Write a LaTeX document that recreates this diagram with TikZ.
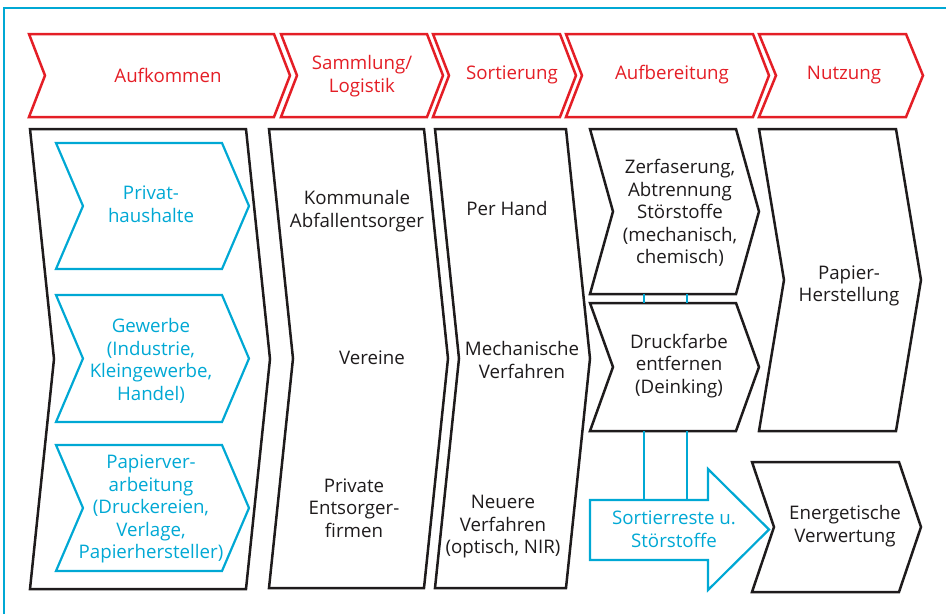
\documentclass[tikz,border=0pt]{standalone}
\usepackage{fontspec}
\setmainfont{Open Sans}
\definecolor{stagered}{RGB}{228, 30, 38}
\definecolor{flowcyan}{RGB}{0, 168, 212}
\definecolor{inkgray}{RGB}{30, 27, 28}
\tikzstyle{stage} = [draw=stagered, line width=2.5pt, line join=miter]
\tikzstyle{body} = [draw=inkgray, line width=2.5pt, line join=miter]
\tikzstyle{source} = [draw=flowcyan, line width=2.2pt, line join=miter]
\tikzstyle{stagetext} = [text=stagered, align=center]
\tikzstyle{bodytext} = [text=inkgray, align=center]
\tikzstyle{sourcetext} = [text=flowcyan, align=center]
\tikzstyle{link} = [draw=flowcyan, line width=2.2pt]
% chevron: style, left, top, right, bottom, depth
\newcommand{\chevbox}[6]{%
  \draw [#1] (#2,#3) -- (#4,#3) -- ({#4+#6},{(#3+#5)/2}) -- (#4,#5)
    -- (#2,#5) -- ({#2+#6},{(#3+#5)/2}) -- cycle;}

\begin{document}
\begin{tikzpicture}[x=1pt, y=-1pt, font=\fontsize{18.7}{22.5}\selectfont]

        \useasboundingbox (0,0) rectangle (946,614);
        \draw [flowcyan, line width=1.5pt] (4,614) -- (4,8) -- (946,8);

        % stages
        \chevbox{stage}{29}{34}{274}{117}{16}
        \chevbox{stage}{281}{34}{427}{117}{16}
        \chevbox{stage}{433}{34}{560}{117}{16}
        \chevbox{stage}{566}{34}{753}{117}{16}
        \chevbox{stage}{759}{34}{906}{117}{17}

        \node (Aufkommen) [stagetext] at (168,75) {Aufkommen};
        \node (Sammlung) [stagetext] at (362,76) {Sammlung/\\Logistik};
        \node (Sortierung) [stagetext] at (512,75) {Sortierung};
        \node (Aufbereitung) [stagetext] at (672,75) {Aufbereitung};
        \node (Nutzung) [stagetext] at (844,75) {Nutzung};

        % columns
        \chevbox{body}{30}{129}{246}{589}{24}
        \chevbox{body}{269}{129}{424}{588}{24}
        \chevbox{body}{435}{129}{566}{588}{24}
        \chevbox{body}{590}{129}{736}{294}{23}
        \chevbox{body}{590}{303}{736}{431}{23}
        \chevbox{body}{759}{129}{896}{431}{25}
        \chevbox{body}{752}{462}{899}{592}{22}

        \chevbox{source}{56}{143}{222}{269}{27}
        \chevbox{source}{56}{295}{222}{422}{27}
        \chevbox{source}{56}{445}{222}{571}{27}

        \node (Privat) [sourcetext] at (151,204) {Privat-\\haushalte};
        \node (Gewerbe) [sourcetext] at (151,361) {Gewerbe\\(Industrie,\\Kleingewerbe,\\Handel)};
        \node (Verarbeitung) [sourcetext] at (151,509) {Papierver-\\arbeitung\\(Druckereien,\\Verlage,\\Papierhersteller)};

        \node (Kommunal) [bodytext] at (357,211) {Kommunale\\Abfallentsorger};
        \node (Vereine) [bodytext] at (372,358) {Vereine};
        \node (Privatfirmen) [bodytext] at (354,508) {Private\\Entsorger-\\firmen};

        \node (PerHand) [bodytext] at (507,208) {Per Hand};
        \node (Mechanisch) [bodytext] at (522,360) {Mechanische\\Verfahren};
        \node (Neuere) [bodytext] at (503,527) {Neuere\\Verfahren\\(optisch, NIR)};

        \node (Zerfaserung) [bodytext] at (680,213) {Zerfaserung,\\Abtrennung\\Störstoffe\\(mechanisch,\\chemisch)};
        \node (Deinking) [bodytext] at (679,366) {Druckfarbe\\entfernen\\(Deinking)};
        \node (Herstellung) [bodytext] at (849,286) {Papier-\\Herstellung};
        \node (Energie) [bodytext] at (845,526) {Energetische\\Verwertung};

        % residue arrow
        \draw [source] (590,500) -- (708,500) -- (708,469) -- (769,529.5)
            -- (708,590) -- (708,560) -- (590,560) -- cycle;
        \node (Reste) [sourcetext] at (674,529) {Sortierreste u.\\Störstoffe};

        \coordinate (ZerfL) at (644,294);
        \coordinate (ZerfR) at (687,294);
        \coordinate (DeinkTopL) at (644,303);
        \coordinate (DeinkTopR) at (687,303);
        \coordinate (DeinkL) at (644,431);
        \coordinate (DeinkR) at (687,431);
        \coordinate (ResteL) at (644,500);
        \coordinate (ResteR) at (687,500);

        \draw [link] (ZerfL) -- (DeinkTopL);
        \draw [link] (ZerfR) -- (DeinkTopR);
        \draw [link] (DeinkL) -- (ResteL);
        \draw [link] (DeinkR) -- (ResteR);

    \end{tikzpicture}
\end{document}
